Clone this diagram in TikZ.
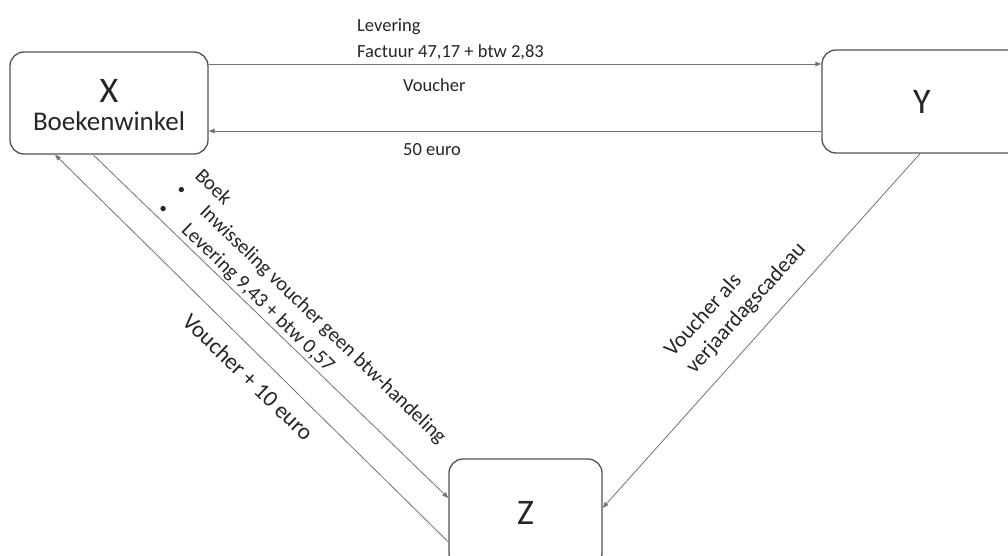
\documentclass[tikz,border=0pt]{standalone}
\usepackage{fontspec}
\setmainfont{Carlito}
\usetikzlibrary{arrows.meta}
\begin{document}
\begin{tikzpicture}[x=1pt,y=-1pt,
  box/.style={draw=black!68,line width=1.3pt,rounded corners=14pt,fill=white,inner sep=0pt,text=black!85},
  conn/.style={draw=black!55,line width=0.8pt,-{Triangle[length=6pt,width=4.5pt]}},
  lbl/.style={inner sep=0pt,text=black!85,font=\fontsize{18.5}{22}\selectfont},
  dlbl/.style={inner sep=0pt,text=black!85,font=\fontsize{20.5}{24}\selectfont,rotate=-44,anchor=base west},
  big/.style={font=\fontsize{36}{36}\selectfont}]
\newcommand{\blt}{\makebox[32pt][l]{\fontsize{15}{15}\selectfont •}}
\useasboundingbox (0,0) rectangle (1008,556);
\clip (0,0) rectangle (1008,556);
\fill[white] (0,0) rectangle (1008,556);
% boxes
\node[box,minimum width=198pt,minimum height=102pt] (X) at (109,103) {};
\node[anchor=base,inner sep=0pt,text=black!85,font=\fontsize{36}{36}\selectfont] (Xt) at ([yshift=0pt]X.center) {X};
\node[anchor=base,inner sep=0pt,text=black!85,font=\fontsize{27}{27}\selectfont] (Xs) at ([yshift=-28pt]X.center) {Boekenwinkel};
\node[box,big,minimum width=200pt,minimum height=103pt] (Y) at (922,101.5) {Y};
\node[box,big,minimum width=153pt,minimum height=108pt] (Z) at (525.5,513) {Z};
% connectors
\draw[conn] ([yshift=39pt]X.east) -- ([yshift=39pt]X.east -| Y.west);
\draw[conn] ([yshift=-28pt]X.east -| Y.west) -- ([yshift=-28pt]X.east);
\draw[conn] ([xshift=-2pt]Y.south) -- ([yshift=5pt]Z.east);
\draw[conn] ([xshift=-16pt]X.south) -- ([yshift=15pt]Z.west);
\draw[conn] ([yshift=-29pt]Z.west) -- ([xshift=-54pt]X.south);
% labels top
\node[lbl,anchor=base west] (l1) at (357,32) {Levering};
\node[lbl,anchor=base west] (l2) at (357,58) {Factuur 47,17 + btw 2,83};
\node[lbl,anchor=base west] (l3) at (403,92) {Voucher};
\node[lbl,anchor=base west] (l4) at (403,156) {50 euro};
% diagonal middle
\node[dlbl] (d1) at (194,177) {Boek};
\node[dlbl] (d2) at (175.8,190.7) {\blt Inwisseling voucher geen btw-handeling};
\node[dlbl] (d3) at (157.5,209.1) {\blt Levering 9,43 + btw 0,57};
% diagonal left
\node[dlbl,font=\fontsize{23}{26}\selectfont] (d4) at (181,323) {Voucher + 10 euro};
% right diagonal
\node[inner sep=0pt,text=black!85,font=\fontsize{22}{26}\selectfont,rotate=48,anchor=base west] (r1) at (673,358) {Voucher als};
\node[inner sep=0pt,text=black!85,font=\fontsize{22}{26}\selectfont,rotate=48,anchor=base west] (r2) at (694.5,374.7) {verjaardagscadeau};
\end{tikzpicture}
\end{document}
